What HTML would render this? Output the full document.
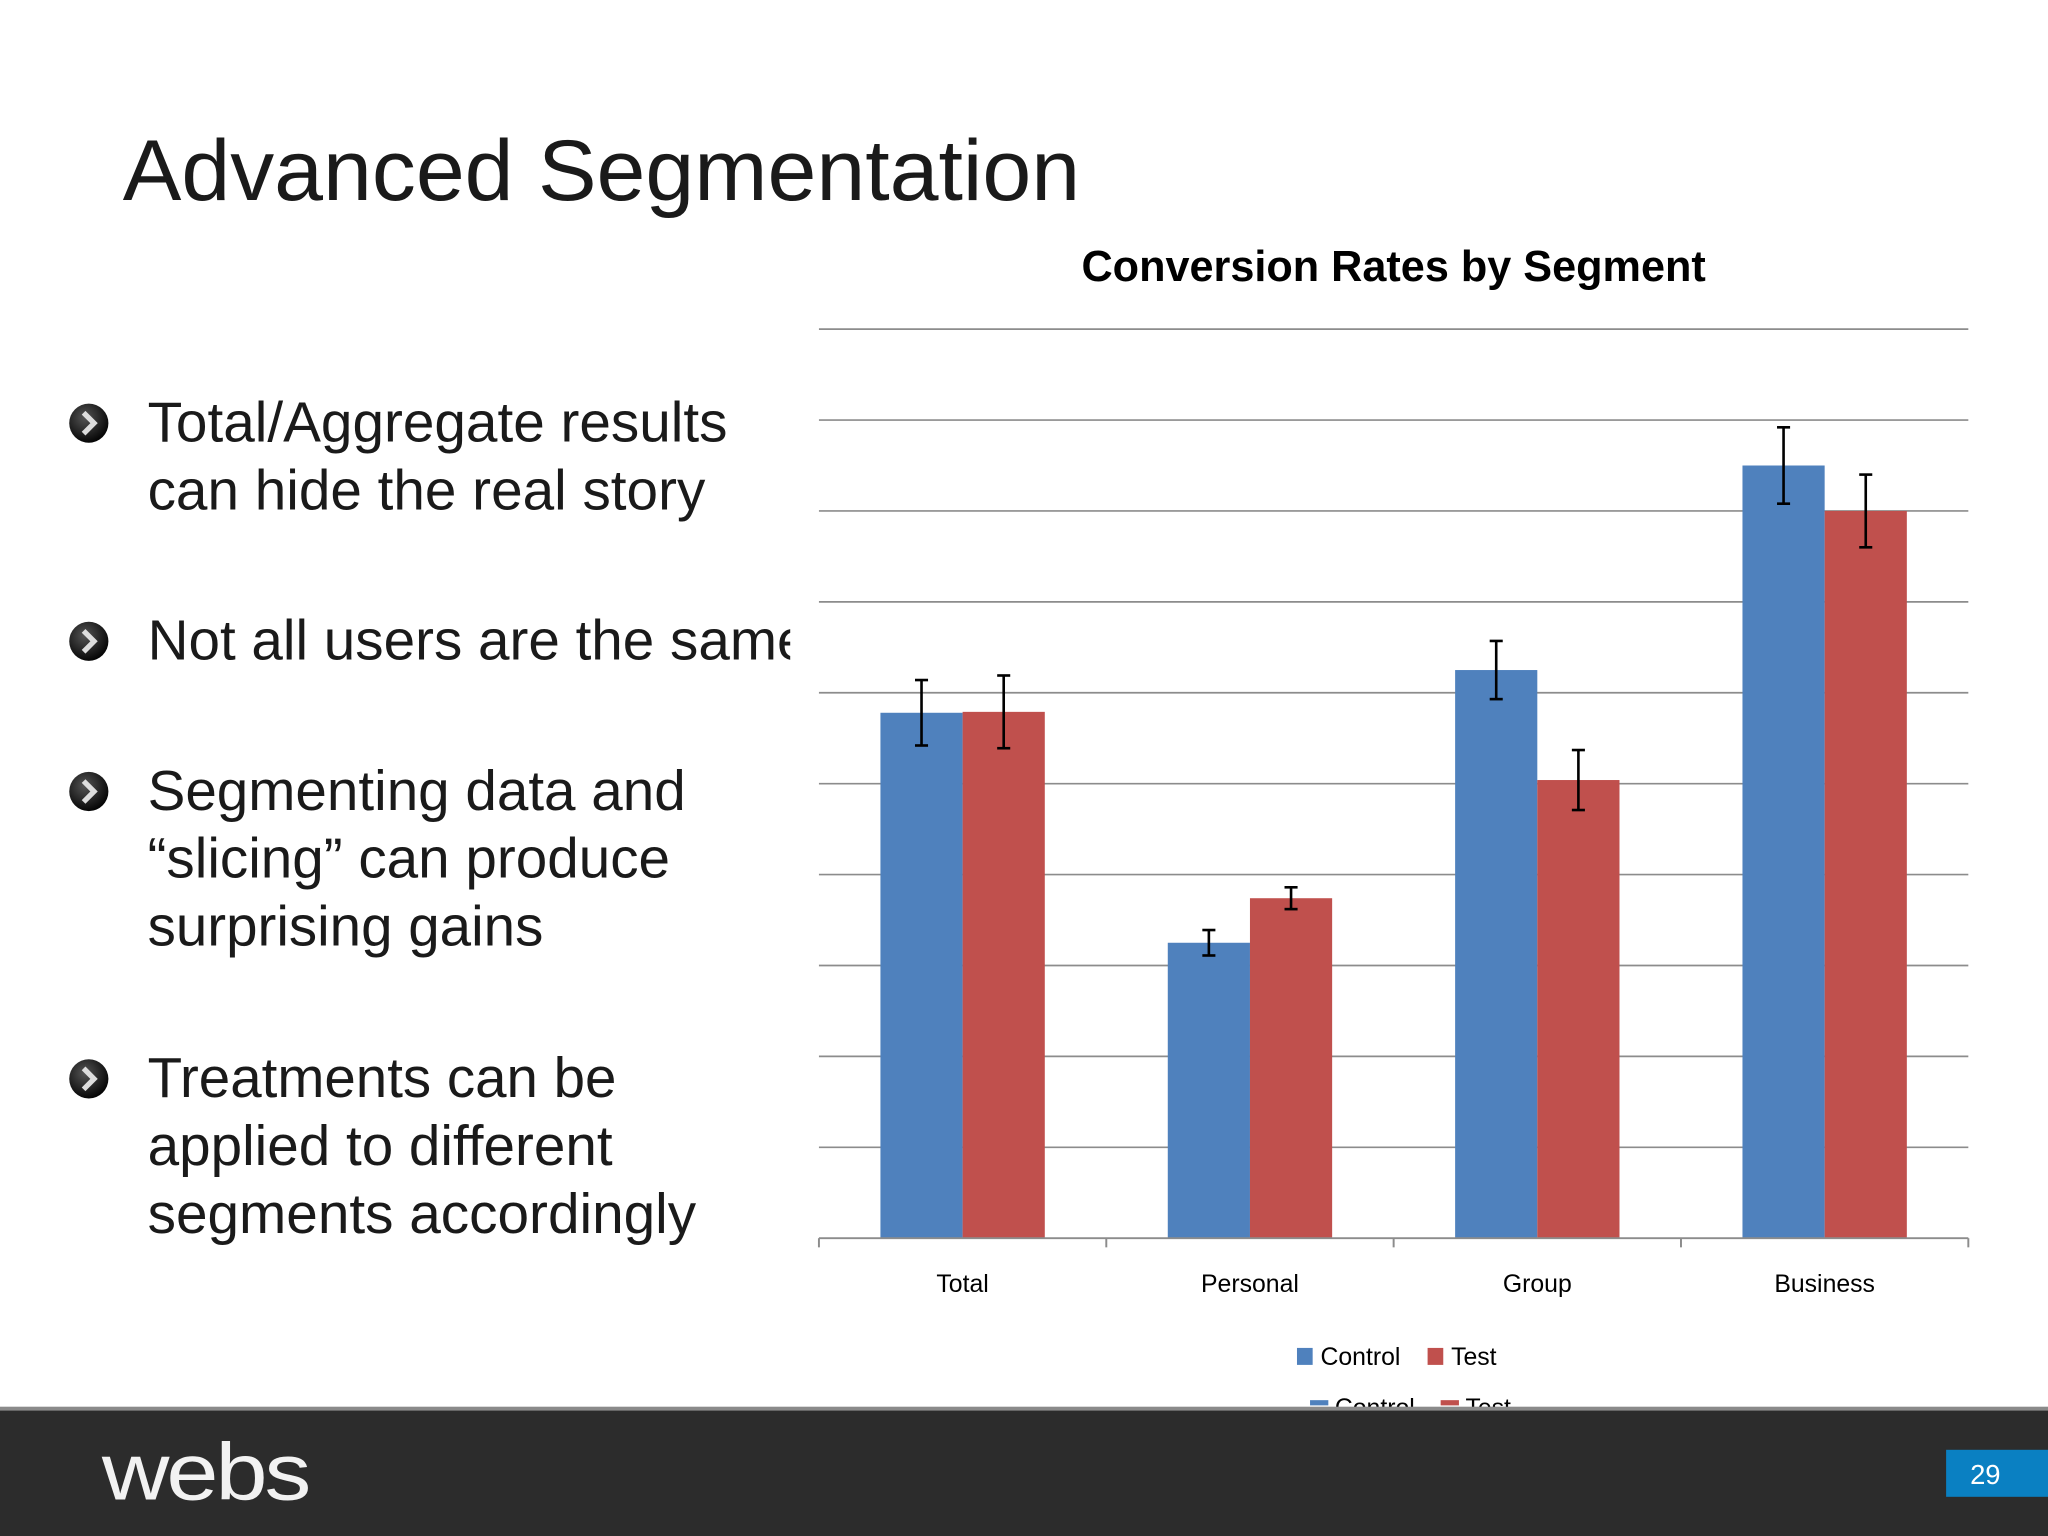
<!DOCTYPE html>
<html><head><meta charset="utf-8"><style>
html,body{margin:0;padding:0;background:#fff;overflow:hidden}
svg{display:block}
</style></head><body>
<svg id="slide" width="2048" height="1536" viewBox="0 0 1568 1176" xmlns="http://www.w3.org/2000/svg" font-family="Liberation Sans, Arial, sans-serif">
<defs>
<clipPath id="leftclip"><rect x="0" y="0" width="605" height="1176"/></clipPath>
<radialGradient id="bul" cx="0.4" cy="0.35" r="0.7"><stop offset="0" stop-color="#555"/><stop offset="1" stop-color="#000"/></radialGradient>
</defs>
<text x="94" y="153" font-size="66" fill="#1a1a1a" textLength="733" lengthAdjust="spacingAndGlyphs">Advanced Segmentation</text>

<g clip-path="url(#leftclip)" font-size="43" fill="#1a1a1a">
  <g>
    <circle cx="68" cy="324" r="15" fill="url(#bul)"/><path d="M64 316 L72 324 L64 332" stroke="#ddd" stroke-width="4" fill="none"/>
    <text x="113" y="338" textLength="444" lengthAdjust="spacingAndGlyphs">Total/Aggregate results</text>
    <text x="113" y="390" textLength="427" lengthAdjust="spacingAndGlyphs">can hide the real story</text>
  </g>
  <g>
    <circle cx="68" cy="491" r="15" fill="url(#bul)"/><path d="M64 483 L72 491 L64 499" stroke="#ddd" stroke-width="4" fill="none"/>
    <text x="113" y="505" textLength="506" lengthAdjust="spacingAndGlyphs">Not all users are the same</text>
  </g>
  <g>
    <circle cx="68" cy="606" r="15" fill="url(#bul)"/><path d="M64 598 L72 606 L64 614" stroke="#ddd" stroke-width="4" fill="none"/>
    <text x="113" y="620" textLength="412" lengthAdjust="spacingAndGlyphs">Segmenting data and</text>
    <text x="113" y="672" textLength="400" lengthAdjust="spacingAndGlyphs">“slicing” can produce</text>
    <text x="113" y="724" textLength="303" lengthAdjust="spacingAndGlyphs">surprising gains</text>
  </g>
  <g>
    <circle cx="68" cy="826" r="15" fill="url(#bul)"/><path d="M64 818 L72 826 L64 834" stroke="#ddd" stroke-width="4" fill="none"/>
    <text x="113" y="840" textLength="359" lengthAdjust="spacingAndGlyphs">Treatments can be</text>
    <text x="113" y="892" textLength="356" lengthAdjust="spacingAndGlyphs">applied to different</text>
    <text x="113" y="944" textLength="420" lengthAdjust="spacingAndGlyphs">segments accordingly</text>
  </g>
</g>

<text x="1067" y="215" font-size="33" font-weight="bold" text-anchor="middle" fill="#000" textLength="478" lengthAdjust="spacingAndGlyphs">Conversion Rates by Segment</text>
<g id="grid"></g>
<g id="bars"></g>
<g id="errs"></g>
<g id="xaxis"></g>

<g font-size="19" fill="#000">
  <g><rect x="993" y="1032" width="12" height="13" fill="#4f81bd"/><text x="1011" y="1045">Control</text></g>
  <g><rect x="1093" y="1032" width="12" height="13" fill="#c0504d"/><text x="1111" y="1045">Test</text></g>
</g>
<g font-size="19" fill="#000">
  <rect x="1003" y="1072" width="14" height="4" fill="#4f81bd"/><text x="1022" y="1084">Control</text>
  <rect x="1103" y="1072" width="14" height="4" fill="#c0504d"/><text x="1122" y="1084">Test</text>
</g>

<g>
  <rect x="0" y="1078" width="1568" height="98" fill="#2c2c2c"/>
  <rect x="0" y="1077" width="1568" height="3" fill="#8a8a8a"/>
  <text x="78" y="1148" font-size="62" fill="#f2f2f2" textLength="158" lengthAdjust="spacingAndGlyphs" letter-spacing="-2">webs</text>
  <rect x="1490" y="1110" width="78" height="36" fill="#0a80c2"/>
  <text x="1520" y="1136" font-size="21" fill="#fff" text-anchor="middle">29</text>
</g>
</svg>
<script>
const categories = ["Total","Personal","Group","Business"];
const controlValues = [5.78, 3.25, 6.25, 8.5];
const testValues = [5.79, 3.74, 5.04, 8.0];
const controlErrors = [0.36, 0.14, 0.32, 0.42];
const testErrors = [0.40, 0.12, 0.33, 0.40];
const yTicks = [0,1,2,3,4,5,6,7,8,9,10];

const NS="http://www.w3.org/2000/svg";
const X0=627, X1=1507, Y0=948, Y1=252, YMAX=10;
const catW=(X1-X0)/categories.length;
const barW=catW*0.286;
function y(v){return Y0-(v/YMAX)*(Y0-Y1);}
function cx(i){return X0+catW*(i+0.5);}
function mk(tag,attrs,parent){const e=document.createElementNS(NS,tag);for(const k in attrs)e.setAttribute(k,attrs[k]);parent.appendChild(e);return e;}

const grid=document.getElementById('grid');
yTicks.forEach(t=>{
  if(t===0)return;
  const l=mk('line',{x1:X0,x2:X1,y1:y(t),y2:y(t),stroke:'#8c8c8c','stroke-width':1.3},grid);
  
  
});
const bars=document.getElementById('bars'), errs=document.getElementById('errs');
function drawErr(xc,v,e){
  const g=mk('g',{stroke:'#000','stroke-width':2},errs);
  
  
  mk('line',{x1:xc,x2:xc,y1:y(v+e),y2:y(v-e)},g);
  mk('line',{x1:xc-5,x2:xc+5,y1:y(v+e),y2:y(v+e)},g);
  mk('line',{x1:xc-5,x2:xc+5,y1:y(v-e),y2:y(v-e)},g);
}
categories.forEach((c,i)=>{
  const c0=cx(i);
  const b1=mk('rect',{x:c0-barW,y:y(controlValues[i]),width:barW,height:Y0-y(controlValues[i]),fill:'#4f81bd'},bars);
  
  
  const b2=mk('rect',{x:c0,y:y(testValues[i]),width:barW,height:Y0-y(testValues[i]),fill:'#c0504d'},bars);
  
  
  drawErr(c0-barW/2,controlValues[i],controlErrors[i]);
  drawErr(c0+barW/2,testValues[i],testErrors[i]);
});
const xa=document.getElementById('xaxis');
mk('line',{x1:X0,x2:X1,y1:Y0,y2:Y0,stroke:'#8c8c8c','stroke-width':1.5},xa);
for(let i=0;i<=categories.length;i++){
  mk('line',{x1:X0+catW*i,x2:X0+catW*i,y1:Y0,y2:Y0+7,stroke:'#8c8c8c','stroke-width':1.5},xa);
}
categories.forEach((c,i)=>{
  const t=mk('text',{x:cx(i),y:989,'font-size':19,'text-anchor':'middle',fill:'#000'},xa);
  t.textContent=c;
  
  
});
</script>
</body></html>
